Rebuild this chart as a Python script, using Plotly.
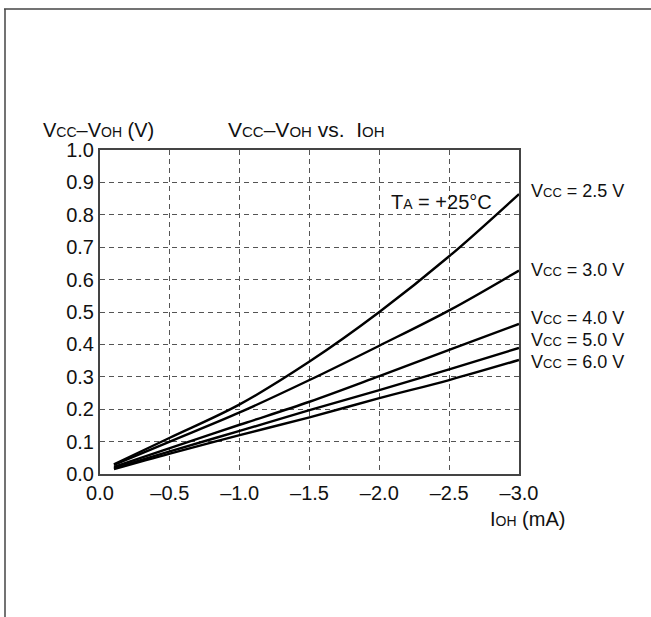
import plotly.graph_objects as go

# ---- data ----
i_oh = [-0.1, -0.5, -1.0, -1.5, -2.0, -2.5, -3.0]
v_25 = [0.030, 0.112, 0.215, 0.347, 0.500, 0.672, 0.864]
v_30 = [0.028, 0.100, 0.190, 0.290, 0.396, 0.505, 0.628]
v_40 = [0.022, 0.080, 0.152, 0.223, 0.302, 0.383, 0.463]
v_50 = [0.018, 0.070, 0.133, 0.197, 0.259, 0.323, 0.389]
v_60 = [0.015, 0.063, 0.120, 0.175, 0.234, 0.290, 0.352]
series = [v_25, v_30, v_40, v_50, v_60]
vcc_labels = ["2.5", "3.0", "4.0", "5.0", "6.0"]
x_ticks = [0.0, -0.5, -1.0, -1.5, -2.0, -2.5, -3.0]
x_ticktext = ["0.0", "–0.5", "–1.0", "–1.5", "–2.0", "–2.5", "–3.0"]
y_ticks = [0.0, 0.1, 0.2, 0.3, 0.4, 0.5, 0.6, 0.7, 0.8, 0.9, 1.0]
y_ticktext = ["%.1f" % v for v in y_ticks]

W, H = 651, 617
L, R, T, B = 100, 519, 150, 474
FONT = "Liberation Sans, Arial, Helvetica, sans-serif"
FS = 20

def px(x):
    return (x - L) / (R - L)

def py(y):
    return (B - y) / (B - T)

def small(s, size=14):
    return "<span style='font-size:%dpx'>%s</span>" % (size, s)

fig = go.Figure()
for vals in series:
    fig.add_trace(go.Scatter(x=i_oh, y=vals, mode="lines",
                             line=dict(color="black", width=2.4, shape="spline", smoothing=1.0),
                             showlegend=False, hoverinfo="skip"))

annos = []
label_y_px = [191, 270, 318, 340, 362]
for lab, ypx in zip(vcc_labels, label_y_px):
    annos.append(dict(x=px(529), y=py(ypx), xref="paper", yref="paper",
                      text="V" + small("CC", 13) + " = " + lab + " V",
                      showarrow=False, xanchor="left", yanchor="middle",
                      font=dict(size=18, color="#111", family=FONT)))

annos.append(dict(x=px(41), y=py(130), xref="paper", yref="paper",
                  text="V" + small("CC") + "–V" + small("OH") + " (V)",
                  showarrow=False, xanchor="left", yanchor="middle",
                  font=dict(size=FS, color="#111", family=FONT)))
annos.append(dict(x=px(226), y=py(130), xref="paper", yref="paper",
                  text="V" + small("CC", 15) + "–V" + small("OH", 15) + " vs.&nbsp;&nbsp;I" + small("OH", 15),
                  showarrow=False, xanchor="left", yanchor="middle",
                  font=dict(size=21, color="#111", family=FONT)))
annos.append(dict(x=px(389), y=py(202), xref="paper", yref="paper",
                  text="T" + small("A") + " = +25°C",
                  showarrow=False, xanchor="left", yanchor="middle",
                  font=dict(size=FS, color="#111", family=FONT)))
annos.append(dict(x=px(488), y=py(519), xref="paper", yref="paper",
                  text="I" + small("OH") + " (mA)",
                  showarrow=False, xanchor="left", yanchor="middle",
                  font=dict(size=FS, color="#111", family=FONT)))

shapes = [
    dict(type="line", xref="paper", yref="paper", x0=px(4), x1=px(651), y0=py(9), y1=py(9),
         line=dict(color="#444", width=1.5)),
    dict(type="line", xref="paper", yref="paper", x0=px(5), x1=px(5), y0=py(9), y1=py(617),
         line=dict(color="#444", width=1.5)),
]

fig.update_layout(
    width=W, height=H,
    margin=dict(l=L, r=W - R, t=T, b=H - B),
    paper_bgcolor="white", plot_bgcolor="white",
    font=dict(family=FONT, size=FS, color="#111"),
    annotations=annos, shapes=shapes, showlegend=False,
)
axis_common = dict(showgrid=True, gridcolor="#555", griddash="5px,4px", gridwidth=1,
                   showline=True, linecolor="#444", linewidth=2, mirror=True,
                   ticks="", zeroline=False, tickfont=dict(size=FS, family=FONT, color="#111"))
fig.update_xaxes(range=[0, -3.0], tickvals=x_ticks, ticktext=x_ticktext, **axis_common)
fig.update_yaxes(range=[0, 1.0], tickvals=y_ticks, ticktext=y_ticktext, **axis_common)

fig.write_html("out.html", config={"displayModeBar": False},
               post_script="document.body.style.margin='0px';document.body.style.overflow='hidden';")
